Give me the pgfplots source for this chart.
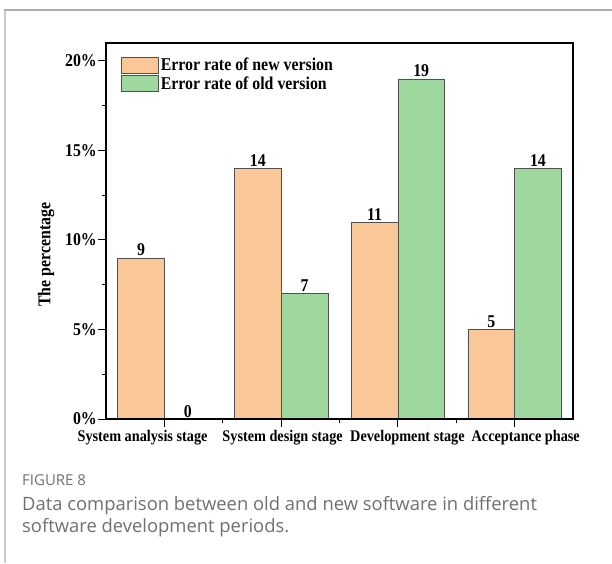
\documentclass[border=0pt]{standalone}
\usepackage{pgfplots}
\pgfplotsset{compat=1.18}
\usepackage{fontspec}
\setmainfont{Liberation Serif}
\newfontfamily\tnr[FakeStretch=0.88]{Liberation Serif}
\newfontfamily\capfont{Open Sans}
\definecolor{newc}{HTML}{FAC898}
\definecolor{oldc}{HTML}{9FD89F}
\definecolor{barline}{HTML}{505050}
\definecolor{capgray}{HTML}{707070}

\begin{document}
\begin{tikzpicture}[x=1pt,y=1pt]
\path[use as bounding box] (0,0) rectangle (612,563);
% frame of the figure panel
\draw[color=black!20, line width=2pt] (4.5,0) -- (4.5,553);
\draw[color=black!32, line width=1.5pt] (3.5,553) -- (612,553);

\begin{axis}[
  at={(106pt,144pt)}, anchor=south west,
  scale only axis, width=467pt, height=376pt,
  ybar=0pt, bar width=0.4,
  xmin=-0.5, xmax=3.5, ymin=0, ymax=21,
  axis on top,
  xtick={0,1,2,3}, xticklabels={},
  minor xtick={0.5,1.5,2.5},
  ytick={0,5,10,15,20}, minor ytick={2.5,7.5,12.5,17.5},
  /pgf/number format/assume math mode=true,
  yticklabel={\pgfmathprintnumber[fixed,precision=0]{\tick}\%},
  tick pos=left, tick align=outside,
  major tick length=8pt, minor tick length=4pt,
  every tick/.style={black, line width=1pt},
  axis line style={line width=1.2pt},
  yticklabel style={font=\tnr\fontsize{18}{18}\selectfont\bfseries, inner sep=1pt},
  xticklabel style={font=\tnr\fontsize{16.2}{16}\selectfont\bfseries},
  extra x ticks={-0.187,1.013,2.082,3.095},
  extra x tick labels={System analysis stage, System design stage, Development stage, Acceptance phase},
  extra x tick style={tick style={draw=none}},
  ylabel={The percentage},
  ylabel style={at={(rel axis cs:-0.128,0.437)}, anchor=center, font=\tnr\fontsize{18}{18}\selectfont\bfseries},
  nodes near coords,
  nodes near coords style={font=\tnr\fontsize{18}{18}\selectfont\bfseries, inner sep=1.5pt},
  every axis plot/.append style={draw=barline, line width=0.6pt},
  legend style={draw=none, fill=none, at={(rel axis cs:0,1)}, anchor=north west,
    xshift=12pt, yshift=-11pt, font=\tnr\fontsize{18}{18}\selectfont\bfseries,
    row sep=0pt, legend cell align=left},
  legend image code/.code={\draw[#1] (0pt,-8pt) rectangle (37pt,8pt);},
]
\addplot[fill=newc] coordinates {(0,9) (1,14) (2,11) (3,5)};
\addplot[fill=oldc] coordinates {(0,0) (1,7) (2,19) (3,14)};
\legend{Error rate of new version, Error rate of old version}
\end{axis}

\node[anchor=base west, inner sep=0, text=capgray, font=\capfont\fontsize{15}{15}\selectfont] at (22,78) {FIGURE 8};
\node[anchor=base west, inner sep=0, text=capgray, font=\capfont\fontsize{18.4}{18}\selectfont] at (22,53) {Data comparison between old and new software in different};
\node[anchor=base west, inner sep=0, text=capgray, font=\capfont\fontsize{18.4}{18}\selectfont] at (22,31) {software development periods.};
\end{tikzpicture}
\end{document}
